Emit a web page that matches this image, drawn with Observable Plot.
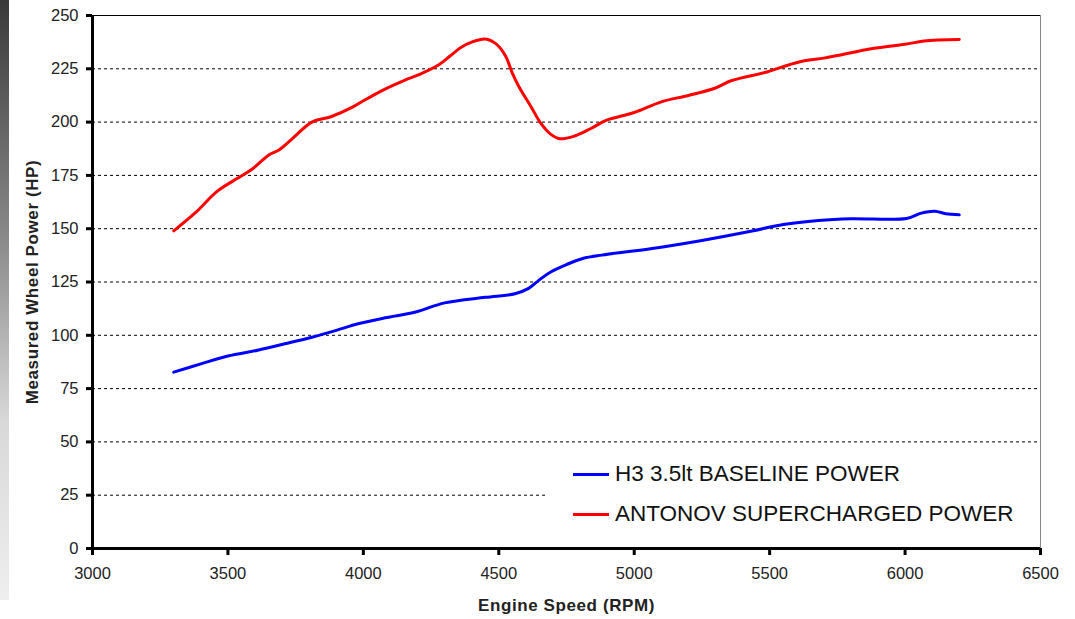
<!DOCTYPE html>
<html>
<head>
<meta charset="utf-8">
<script src="https://cdn.jsdelivr.net/npm/d3@7"></script>
<script src="https://cdn.jsdelivr.net/npm/@observablehq/plot@0.6"></script>
<style>
  html, body { margin: 0; padding: 0; background: #fff; }
  #wrap { position: relative; width: 1075px; height: 619px; overflow: hidden; font-family: "Liberation Sans", Arial, sans-serif; }
  #strip { position: absolute; left: 0; top: 0; width: 9px; height: 600px; background: linear-gradient(#3a3a3a, #8a8a8a 40%, #d8d8d8 70%, #eee); }
  #legend { position: absolute; left: 548px; top: 453px; width: 491px; height: 93px; background: #fff; }
  .row { position: absolute; left: 25px; display: flex; align-items: center; font-size: 22.5px; color: #111; white-space: nowrap; }
  .sw { width: 36px; height: 3px; margin-right: 6px; }
  g[aria-label="y-axis label"] text, g[aria-label="x-axis label"] text { font-weight: bold; font-size: 17px; letter-spacing: 0.6px; }
  g[aria-label="x-axis tick label"] text, g[aria-label="y-axis tick label"] text { font-size: 16.5px; }
</style>
</head>
<body>
<div id="wrap">
  <div id="strip"></div>
  <div id="chart"></div>
  <div id="legend"></div>
</div>
<script>
// ---- data ----
const xTicks = [3000, 3500, 4000, 4500, 5000, 5500, 6000, 6500];
const yTicks = [0, 25, 50, 75, 100, 125, 150, 175, 200, 225, 250];

const seriesNames = ["H3 3.5lt BASELINE POWER", "ANTONOV SUPERCHARGED POWER"];
const seriesColors = ["#0000ff", "#ff0000"];

const baselineRpm = [3300, 3400, 3500, 3610, 3710, 3810, 3900, 3980, 4080, 4190, 4300, 4450, 4560, 4610, 4650, 4690, 4750, 4810, 4880, 5060, 5250, 5430, 5550, 5680, 5800, 6005, 6060, 6110, 6150, 6200];
const baselineHp  = [82.7, 86.6, 90.3, 93.0, 96.0, 99.1, 102.3, 105.4, 108.2, 110.8, 115.2, 117.8, 119.5, 122.0, 126.0, 129.6, 133.2, 136.0, 137.6, 140.6, 144.5, 148.8, 152.0, 153.9, 154.7, 154.8, 157.3, 158.2, 157.0, 156.5];

const antonovRpm = [3300, 3380, 3460, 3540, 3590, 3650, 3690, 3740, 3810, 3880, 3960, 4000, 4080, 4150, 4210, 4280, 4320, 4360, 4400, 4450, 4490, 4525, 4550, 4575, 4620, 4655, 4690, 4725, 4780, 4840, 4900, 5000, 5100, 5200, 5300, 5360, 5490, 5550, 5620, 5700, 5750, 5880, 6000, 6070, 6200];
const antonovHp  = [149.0, 157.5, 167.5, 174.0, 178.0, 184.5, 187.0, 192.5, 200.0, 202.5, 207.0, 210.0, 215.5, 219.5, 222.5, 227.0, 231.0, 235.0, 237.5, 239.0, 236.7, 231.0, 223.0, 216.5, 207.0, 199.5, 194.5, 192.2, 193.5, 197.0, 201.0, 204.5, 209.5, 212.5, 216.0, 219.5, 223.5, 226.0, 228.5, 230.0, 231.2, 234.5, 236.5, 238.0, 238.7];

const baseline = baselineRpm.map((r, i) => ({rpm: r, hp: baselineHp[i]}));
const antonov = antonovRpm.map((r, i) => ({rpm: r, hp: antonovHp[i]}));

const chart = Plot.plot({
  width: 1075,
  height: 619,
  marginLeft: 92,
  marginRight: 35,
  marginTop: 15,
  marginBottom: 71,
  style: {fontFamily: "'Liberation Sans', Arial, sans-serif", fontSize: "16px", color: "#222", background: "transparent", overflow: "visible"},
  x: {domain: [3000, 6500]},
  y: {domain: [0, 250]},
  marks: [
    Plot.gridY(yTicks.filter(d => d > 0 && d < 250), {stroke: "#000", strokeOpacity: 1, strokeDasharray: "3,3", strokeWidth: 1}),
    Plot.ruleY([250], {stroke: "#000", strokeWidth: 1}),
    Plot.ruleX([6500], {stroke: "#888", strokeWidth: 1}),
    Plot.line(baseline, {x: "rpm", y: "hp", stroke: seriesColors[0], strokeWidth: 3, curve: "catmull-rom"}),
    Plot.line(antonov, {x: "rpm", y: "hp", stroke: seriesColors[1], strokeWidth: 3, curve: "catmull-rom"}),
    Plot.axisX({ticks: xTicks, tickFormat: d => String(d), tickSize: 7, tickPadding: 12, strokeWidth: 3, stroke: "#000",
      label: "Engine Speed (RPM)", labelAnchor: "center", labelArrow: "none", labelOffset: 62}),
    Plot.axisY({ticks: yTicks, tickFormat: d => String(d), tickSize: 6, tickPadding: 8, strokeWidth: 3, stroke: "#000",
      label: "Measured Wheel Power (HP)", labelAnchor: "center", labelArrow: "none", labelOffset: 67}),
    Plot.ruleX([3000], {stroke: "#000", strokeWidth: 3}),
    Plot.ruleY([0], {stroke: "#000", strokeWidth: 3})
  ]
});
document.getElementById("chart").appendChild(chart);

// legend overlay
const legend = document.getElementById("legend");
seriesNames.forEach((name, i) => {
  const row = document.createElement("div");
  row.className = "row";
  row.style.top = (i === 0 ? 8 : 48) + "px";
  row.innerHTML = `<div class="sw" style="background:${seriesColors[i]}"></div><span>${name}</span>`;
  legend.appendChild(row);
});
</script>
</body>
</html>
